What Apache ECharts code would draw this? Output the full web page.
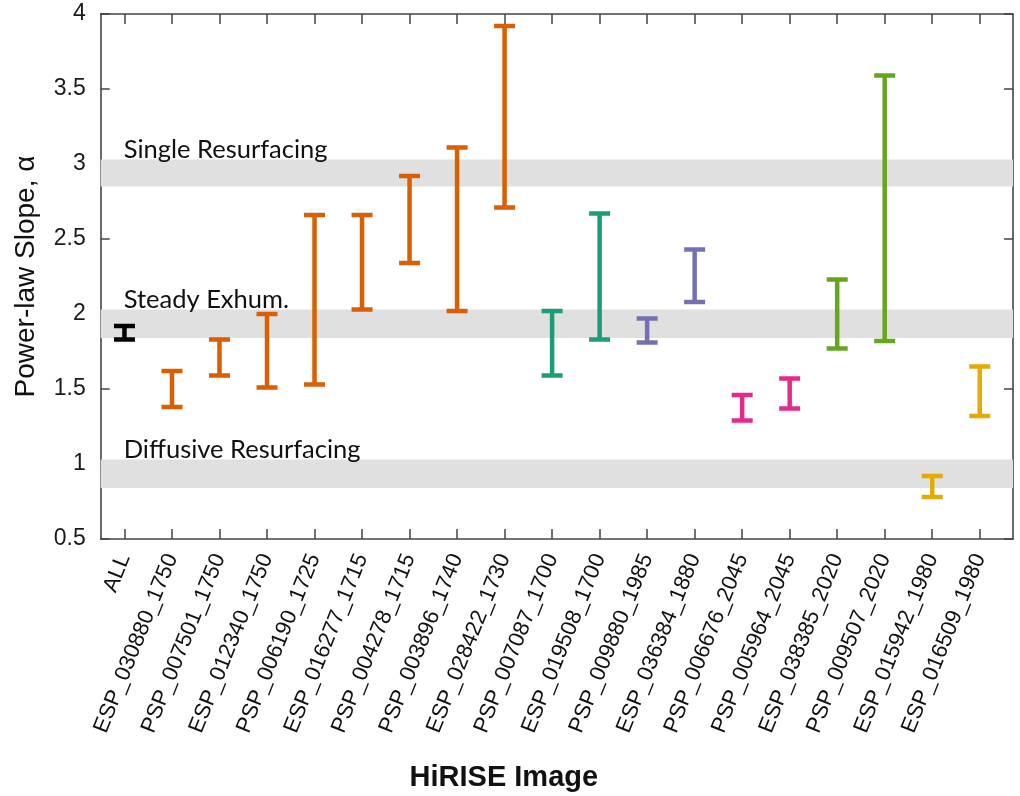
<!DOCTYPE html>
<html>
<head>
<meta charset="utf-8">
<script src="https://cdn.jsdelivr.net/npm/echarts@6.0.0/dist/echarts.min.js"></script>
<style>
  html, body { margin: 0; padding: 0; background: #fff; }
  #chart { width: 1020px; height: 796px; }
</style>
</head>
<body>
<div id="chart"></div>
<script>
// ---- data ----
const categories = ['ALL', 'ESP_030880_1750', 'PSP_007501_1750', 'ESP_012340_1750', 'PSP_006190_1725',
  'ESP_016277_1715', 'PSP_004278_1715', 'PSP_003896_1740', 'ESP_028422_1730', 'PSP_007087_1700',
  'ESP_019508_1700', 'PSP_009880_1985', 'ESP_036384_1880', 'PSP_006676_2045', 'PSP_005964_2045',
  'ESP_038385_2020', 'PSP_009507_2020', 'ESP_015942_1980', 'ESP_016509_1980'];
const lowValues  = [1.83, 1.38, 1.59, 1.51, 1.53, 2.03, 2.34, 2.02, 2.71, 1.59, 1.83, 1.81, 2.08, 1.29, 1.37, 1.77, 1.82, 0.78, 1.32];
const highValues = [1.92, 1.62, 1.83, 2.00, 2.66, 2.66, 2.92, 3.11, 3.92, 2.02, 2.67, 1.97, 2.43, 1.46, 1.57, 2.23, 3.59, 0.92, 1.65];
const groupIndex = [0, 1, 1, 1, 1, 1, 1, 1, 1, 2, 2, 3, 3, 4, 4, 5, 5, 6, 6];
const groupColors = ['#000000', '#d95f02', '#1b9e77', '#7570b3', '#e7298a', '#66a61e', '#e6ab02'];

const bandNames = ['Single Resurfacing', 'Steady Exhum.', 'Diffusive Resurfacing'];
const bandLow  = [2.85, 1.84, 0.84];
const bandHigh = [3.03, 2.03, 1.03];

const yTicks = { min: 0.5, max: 4, interval: 0.5 };
const tickIdx = categories.map((c, i) => i);

// ---- chart ----
const chart = echarts.init(document.getElementById('chart'), null, { renderer: 'canvas' });

const axisLineStyle = { color: '#444', width: 1.6 };
const tickStyle = { color: '#444', width: 1.5 };

const errData = categories.map((c, i) => ({
  value: [i, lowValues[i], highValues[i]],
  itemStyle: { color: groupColors[groupIndex[i]] }
}));

const option = {
  backgroundColor: '#ffffff',
  animation: false,
  grid: { left: 100.7, right: 7, top: 14, bottom: 257, containLabel: false, outerBoundsMode: 'none' },
  xAxis: [{
    type: 'value', position: 'bottom', min: -0.5, max: 18.7,
    axisLine: { show: true, onZero: false, lineStyle: axisLineStyle },
    axisTick: { show: true, inside: true, length: 10, customValues: tickIdx, lineStyle: tickStyle },
    splitLine: { show: false },
    axisLabel: {
      show: true, customValues: tickIdx, rotate: 68, margin: 16,
      formatter: v => categories[Math.round(v)] || '',
      fontFamily: 'Liberation Sans', fontSize: 22, color: '#111'
    },
    name: 'HiRISE Image', nameLocation: 'middle', nameGap: 224,
    nameTextStyle: { fontFamily: 'Liberation Sans', fontWeight: 'bold', fontSize: 29, color: '#111', padding: [0, 106, 0, 0] }
  }, {
    type: 'value', position: 'top', min: -0.5, max: 18.7,
    axisLine: { show: true, onZero: false, lineStyle: axisLineStyle },
    axisTick: { show: true, inside: true, length: 10, customValues: tickIdx, lineStyle: tickStyle },
    splitLine: { show: false },
    axisLabel: { show: false }
  }],
  yAxis: [{
    type: 'value', position: 'left', min: yTicks.min, max: yTicks.max, interval: yTicks.interval,
    axisLine: { show: true, onZero: false, lineStyle: axisLineStyle },
    axisTick: { show: true, inside: true, length: 9, lineStyle: tickStyle },
    splitLine: { show: false },
    axisLabel: { margin: 15, fontFamily: 'Liberation Sans', fontSize: 23, color: '#1a1a1a' },
    name: 'Power-law Slope, α', nameLocation: 'middle', nameGap: 60,
    nameTextStyle: { fontFamily: 'Liberation Sans', fontSize: 28, color: '#111' }
  }, {
    type: 'value', position: 'right', min: yTicks.min, max: yTicks.max, interval: yTicks.interval,
    axisLine: { show: true, onZero: false, lineStyle: axisLineStyle },
    axisTick: { show: true, inside: true, length: 9, lineStyle: tickStyle },
    splitLine: { show: false },
    axisLabel: { show: false }
  }],
  series: [{
    type: 'line', data: [], xAxisIndex: 0, yAxisIndex: 0, z: 1, silent: true,
    markArea: {
      silent: true,
      itemStyle: { color: '#e0e0e0' },
      label: {
        show: true, position: [23, 3], align: 'left', verticalAlign: 'bottom',
        fontFamily: 'Lato', fontSize: 25.5, color: '#111'
      },
      data: bandNames.map((n, i) => [{ name: n, yAxis: bandHigh[i] }, { yAxis: bandLow[i] }])
    }
  }, {
    type: 'custom', xAxisIndex: 0, yAxisIndex: 0, z: 3,
    data: errData,
    renderItem: function (params, api) {
      const x = api.value(0), lo = api.value(1), hi = api.value(2);
      const pLo = api.coord([x, lo]);
      const pHi = api.coord([x, hi]);
      const hw = 10.5;
      const color = api.visual('color');
      const style = { stroke: color, lineWidth: 4.5, fill: null };
      return {
        type: 'group',
        children: [
          { type: 'line', shape: { x1: pLo[0], y1: pLo[1], x2: pHi[0], y2: pHi[1] }, style: style },
          { type: 'line', shape: { x1: pLo[0] - hw, y1: pLo[1], x2: pLo[0] + hw, y2: pLo[1] }, style: style },
          { type: 'line', shape: { x1: pHi[0] - hw, y1: pHi[1], x2: pHi[0] + hw, y2: pHi[1] }, style: style }
        ]
      };
    }
  }]
};
chart.setOption(option);
</script>
</body>
</html>
